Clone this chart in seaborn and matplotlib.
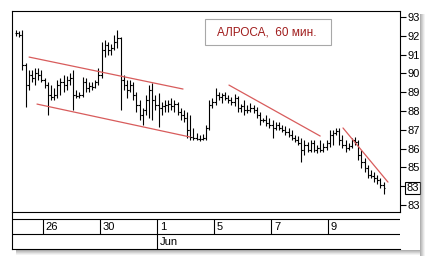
import numpy as np
import pandas as pd
import matplotlib
matplotlib.use("Agg")
import matplotlib.pyplot as plt
import matplotlib.transforms as mtransforms
from matplotlib.patches import Rectangle
import seaborn as sns

# ---- data (hourly OHLC, ALROSA) ----
opens = [92.15, 92.15, 92.04, 90.45, 89.38, 89.91, 89.75, 90.02, 89.91,
         89.65, 89.38, 88.85, 88.74, 88.85, 89.38, 89.54, 89.38, 89.65,
         89.75, 88.85, 88.80, 88.85, 89.54, 89.22, 89.33, 89.28, 89.54,
         89.91, 91.24, 91.51, 91.24, 91.35, 91.67, 91.88, 89.65, 89.38,
         89.12, 89.38, 88.85, 88.32, 87.79, 88.05, 88.59, 89.12, 88.59,
         88.32, 88.16, 88.27, 88.32, 88.37, 88.27, 88.37, 87.95, 87.79,
         87.63, 86.99, 86.62, 86.56, 86.51, 86.51, 86.56, 87.10, 88.32,
         88.48, 88.85, 88.74, 88.85, 88.69, 88.59, 88.48, 88.69, 88.16,
         88.27, 88.05, 88.05, 88.16, 88.05, 87.79, 87.52, 87.52, 87.36,
         87.26, 87.10, 87.26, 87.10, 86.99, 86.88, 86.72, 86.56, 86.46,
         86.30, 85.93, 86.19, 85.93, 86.30, 85.93, 86.03, 85.93, 86.09,
         86.30, 86.72, 86.83, 86.94, 86.46, 86.19, 86.03, 86.14, 86.46,
         86.35, 85.66, 85.29, 84.97, 84.60, 84.54, 84.44, 84.33, 84.06]
highs = [92.31, 92.26, 92.31, 90.55, 90.18, 90.18, 90.29, 90.29, 90.18,
         89.75, 89.54, 89.38, 89.22, 89.65, 89.75, 89.91, 89.86, 90.02,
         90.18, 89.12, 89.01, 89.81, 89.75, 89.54, 89.54, 89.65, 90.29,
         91.67, 91.78, 91.67, 91.56, 92.04, 92.31, 91.94, 89.91, 89.65,
         89.65, 89.54, 89.01, 88.59, 88.16, 88.85, 89.38, 89.49, 88.85,
         88.96, 88.48, 88.59, 88.59, 88.69, 88.59, 88.48, 88.16, 88.05,
         87.95, 87.79, 87.10, 86.83, 86.72, 86.78, 87.26, 88.59, 88.69,
         89.22, 89.01, 88.96, 89.01, 88.85, 88.74, 88.90, 88.80, 88.37,
         88.59, 88.32, 88.43, 88.32, 88.21, 87.95, 87.63, 87.79, 87.63,
         87.52, 87.41, 87.41, 87.26, 87.20, 87.10, 86.99, 86.72, 86.67,
         86.56, 86.46, 86.35, 86.46, 86.46, 86.19, 86.46, 86.30, 86.46,
         86.99, 86.99, 87.10, 87.10, 86.72, 86.46, 86.30, 86.56, 86.62,
         86.46, 85.93, 85.50, 85.13, 84.86, 84.75, 84.60, 84.44, 84.22]
lows = [91.99, 91.94, 90.18, 88.21, 89.12, 89.54, 89.38, 89.65, 89.54,
        89.22, 87.79, 88.59, 88.59, 88.69, 88.85, 89.01, 89.12, 89.38,
        88.05, 88.69, 88.69, 88.74, 89.01, 89.01, 89.12, 89.22, 89.38,
        89.75, 90.87, 90.98, 90.98, 91.24, 91.35, 88.05, 89.12, 88.69,
        89.01, 88.59, 87.95, 87.52, 87.26, 87.79, 87.63, 87.52, 88.05,
        87.15, 87.79, 87.95, 87.95, 88.05, 87.95, 87.79, 87.52, 87.41,
        86.56, 86.46, 86.46, 86.46, 86.40, 86.46, 86.46, 86.99, 88.16,
        88.32, 88.59, 88.43, 88.59, 88.43, 88.32, 88.27, 87.95, 87.95,
        87.79, 87.89, 87.95, 87.89, 87.63, 87.26, 87.41, 87.20, 87.10,
        86.56, 86.99, 86.99, 86.88, 86.72, 86.62, 86.46, 86.35, 86.19,
        85.29, 85.66, 85.82, 85.82, 85.82, 85.77, 85.82, 85.82, 85.93,
        86.09, 86.19, 86.72, 86.19, 86.03, 85.82, 85.93, 86.03, 86.19,
        85.39, 84.97, 84.75, 84.44, 84.44, 84.22, 84.12, 83.90, 83.58]
closes = [92.15, 92.04, 90.45, 89.38, 89.91, 89.75, 90.02, 89.91, 89.65,
          89.38, 88.85, 88.74, 88.85, 89.38, 89.54, 89.38, 89.65, 89.75,
          88.85, 88.80, 88.85, 89.54, 89.22, 89.33, 89.28, 89.54, 89.91,
          91.24, 91.51, 91.24, 91.35, 91.67, 91.88, 89.65, 89.38, 89.12,
          89.38, 88.85, 88.32, 87.79, 88.05, 88.59, 89.12, 88.59, 88.32,
          88.16, 88.27, 88.32, 88.37, 88.27, 88.37, 87.95, 87.79, 87.63,
          86.99, 86.62, 86.56, 86.51, 86.51, 86.56, 87.10, 88.32, 88.48,
          88.85, 88.74, 88.85, 88.69, 88.59, 88.48, 88.69, 88.16, 88.27,
          88.05, 88.05, 88.16, 88.05, 87.79, 87.52, 87.52, 87.36, 87.26,
          87.10, 87.26, 87.10, 86.99, 86.88, 86.72, 86.56, 86.46, 86.30,
          85.93, 86.19, 85.93, 86.30, 85.93, 86.03, 85.93, 86.09, 86.30,
          86.72, 86.83, 86.94, 86.46, 86.19, 86.03, 86.14, 86.46, 86.35,
          85.66, 85.29, 84.97, 84.60, 84.54, 84.44, 84.33, 84.06, 83.90]

day_labels = ["26", "30", "1", "5", "7", "9"]
day_start_bars = [9, 27, 45, 63, 81, 99]
month_label = "Jun"
month_start_bar = 45

trend_x0 = [4.1, 6.6, 67.2, 103.2]
trend_y0 = [90.87, 88.37, 89.38, 87.10]
trend_x1 = [52.7, 54.9, 96.0, 117.4]
trend_y1 = [89.17, 86.62, 86.67, 84.22]

y_ticks = [93, 92, 91, 90, 89, 88, 87, 86, 85, 84, 83]
y_tick_labels = ["93", "92", "91", "90", "89", "88", "87", "86", "85", "", "83"]
last_price_label = "83"
title_text = "АЛРОСА,  60 мин."

# ---- style ----
sns.set_style("white")
plt.rcParams["font.family"] = ["Liberation Sans", "DejaVu Sans"]

W, H = 432, 263
fig = plt.figure(figsize=(W / 100, H / 100), dpi=100)
fig.patch.set_facecolor("white")


def fx(px):
    return px / W


def fy(py):
    return 1 - py / H


L, R, T, B = 12, 400, 11, 212
ax = fig.add_axes([fx(L), fy(B), (R - L) / W, (B - T) / H])
xlim = (-1.29, 121.2)
ax.set_xlim(*xlim)
ax.set_ylim(82.63, 93.32)

idx = np.arange(len(closes))
lw = 0.8
ax.vlines(idx, lows, highs, color="black", lw=lw)
ax.hlines(opens, idx - 0.5, idx, color="black", lw=lw)
ax.hlines(closes, idx, idx + 0.5, color="black", lw=lw)

tr = pd.DataFrame({
    "x": trend_x0 + trend_x1,
    "y": trend_y0 + trend_y1,
    "line": list(range(4)) + list(range(4)),
})
sns.lineplot(data=tr, x="x", y="y", units="line", estimator=None,
             color="#d85c5c", lw=0.9, ax=ax, legend=False)
ax.set_xlabel("")
ax.set_ylabel("")
ax.set_xticks([])
ax.yaxis.tick_right()
ax.set_yticks(y_ticks)
ax.set_yticklabels(y_tick_labels)
ax.tick_params(axis="y", direction="out", length=4.3, width=0.8, pad=1,
               labelsize=8, colors="black", right=True, left=False)
for s in ax.spines.values():
    s.set_color("black")
    s.set_linewidth(0.8)

# clip the right-hand labels at the panel edge like the reference
fig.canvas.draw()
clip_bb = mtransforms.Bbox.from_extents(0, 0, 419.5, H)
for lbl in ax.get_yticklabels():
    lbl.set_clip_on(True)
    lbl.set_clip_box(clip_bb)

# last price marker
bt = mtransforms.blended_transform_factory(ax.transAxes, ax.transData)
ax.text(1 + 6.5 / (R - L), closes[-1], last_price_label, transform=bt,
        ha="left", va="center", fontsize=8, color="black",
        bbox=dict(boxstyle="square,pad=0.12", fc="white", ec="black", lw=0.8),
        clip_on=False)

# title box
fig.add_artist(Rectangle((fx(205), fy(45)), (331 - 205) / W, (45 - 19) / H,
                         transform=fig.transFigure, fc="white", ec="#a8a8a8", lw=0.8))
fig.text(fx(267), fy(32.5), title_text, ha="center", va="center",
         fontsize=8.5, color="#a01c1c")

# date strip
SB = 249
ax2 = fig.add_axes([fx(L), fy(SB), (R - L) / W, (SB - B) / H])
ax2.set_xlim(*xlim)
ax2.set_ylim(SB - B, 0)
ax2.set_xticks([])
ax2.set_yticks([])
ax2.patch.set_alpha(0)
for k, s in ax2.spines.items():
    s.set_color("black")
    s.set_linewidth(0.8)
ax2.spines["right"].set_visible(False)
ax2.spines["top"].set_visible(False)
ax2.axhline(219 - B, color="black", lw=0.8)
ax2.axhline(234 - B, color="black", lw=0.8)
for lab, b in zip(day_labels, day_start_bars):
    ax2.plot([b - 0.5, b - 0.5], [219 - B, 234 - B], color="black", lw=0.8)
    ax2.text(b - 0.5 + 0.9, (219 + 234) / 2 - B + 0.5, lab, ha="left", va="center",
             fontsize=8, color="black")
ax2.plot([month_start_bar - 0.5] * 2, [234 - B, SB - B], color="black", lw=0.8)
ax2.text(month_start_bar - 0.5 + 0.9, (234 + SB) / 2 - B + 0.5, month_label,
         ha="left", va="center", fontsize=8, color="black")

# drop shadow
alphas = [0.55, 0.42, 0.3, 0.18, 0.08]
for k, a in enumerate(alphas):
    fig.add_artist(Rectangle((fx(420 + k), fy(256)), 1 / W, (256 - 14) / H,
                             transform=fig.transFigure, fc="#707070", ec="none", alpha=a))
    fig.add_artist(Rectangle((fx(16), fy(250 + k + 1)), (420 - 16) / W, 1 / H,
                             transform=fig.transFigure, fc="#707070", ec="none", alpha=a))

fig.savefig("out.png", dpi=100)
